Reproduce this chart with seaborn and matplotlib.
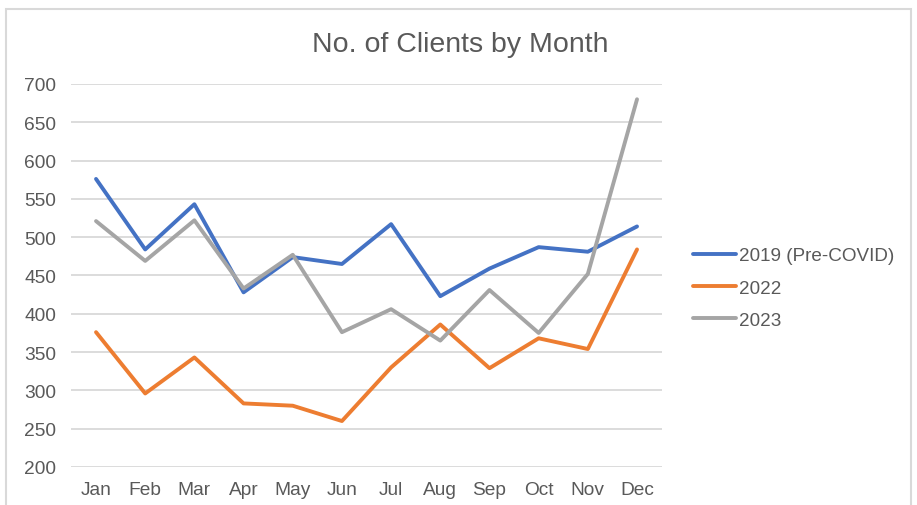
import pandas as pd
import matplotlib.pyplot as plt
import seaborn as sns
from matplotlib.patches import Rectangle

# data
months = ["Jan", "Feb", "Mar", "Apr", "May", "Jun", "Jul", "Aug", "Sep", "Oct", "Nov", "Dec"]
clients_2019 = [576, 484, 543, 428, 474, 465, 517, 423, 459, 487, 481, 514]
clients_2022 = [376, 296, 343, 283, 280, 260, 330, 386, 329, 368, 354, 484]
clients_2023 = [521, 469, 522, 433, 477, 376, 406, 365, 431, 375, 452, 680]
series_names = ["2019 (Pre-COVID)", "2022", "2023"]
colors = ["#4472C4", "#ED7D31", "#A5A5A5"]

df = pd.DataFrame({
    "Month": months * 3,
    "Clients": clients_2019 + clients_2022 + clients_2023,
    "Series": [series_names[0]] * 12 + [series_names[1]] * 12 + [series_names[2]] * 12,
})

sns.set_style("white")
plt.rcParams["font.family"] = ["Liberation Sans", "DejaVu Sans"]

fig = plt.figure(figsize=(9.17, 5.06), dpi=100)
ax = fig.add_axes([0.0779, 0.0751, 0.6436, 0.757])

sns.lineplot(data=df, x="Month", y="Clients", hue="Series",
             palette=colors, linewidth=2.8, sort=False, ax=ax, legend=False)

ax.set_ylim(200, 700)
ax.set_yticks(range(200, 701, 50))
ax.set_xlim(-0.5, 11.5)
ax.yaxis.grid(True, color="#D9D9D9", linewidth=1.3)
ax.set_axisbelow(True)
for s in ax.spines.values():
    s.set_visible(False)
ax.set_xlabel("")
ax.set_ylabel("")
ax.tick_params(axis="both", length=0, labelsize=13.8, labelcolor="#595959")
ax.tick_params(axis="y", pad=11)
ax.tick_params(axis="x", pad=10)

fig.text(0.502, 0.912, "No. of Clients by Month", ha="center", va="center",
         fontsize=20.5, color="#595959")

handles = [plt.Line2D([], [], color=c, linewidth=2.8) for c in colors]
fig.legend(handles, series_names, loc="center left", bbox_to_anchor=(0.737, 0.429),
           frameon=False, fontsize=13.6, labelcolor="#595959", handlelength=2.3,
           handletextpad=0.15, labelspacing=0.8)

# light outer chart border
fig.patches.append(Rectangle((0.006, -0.1), 0.988, 1.08, transform=fig.transFigure,
                             fill=False, edgecolor="#D9D9D9", linewidth=1.5))

fig.savefig("out.png", dpi=100)
